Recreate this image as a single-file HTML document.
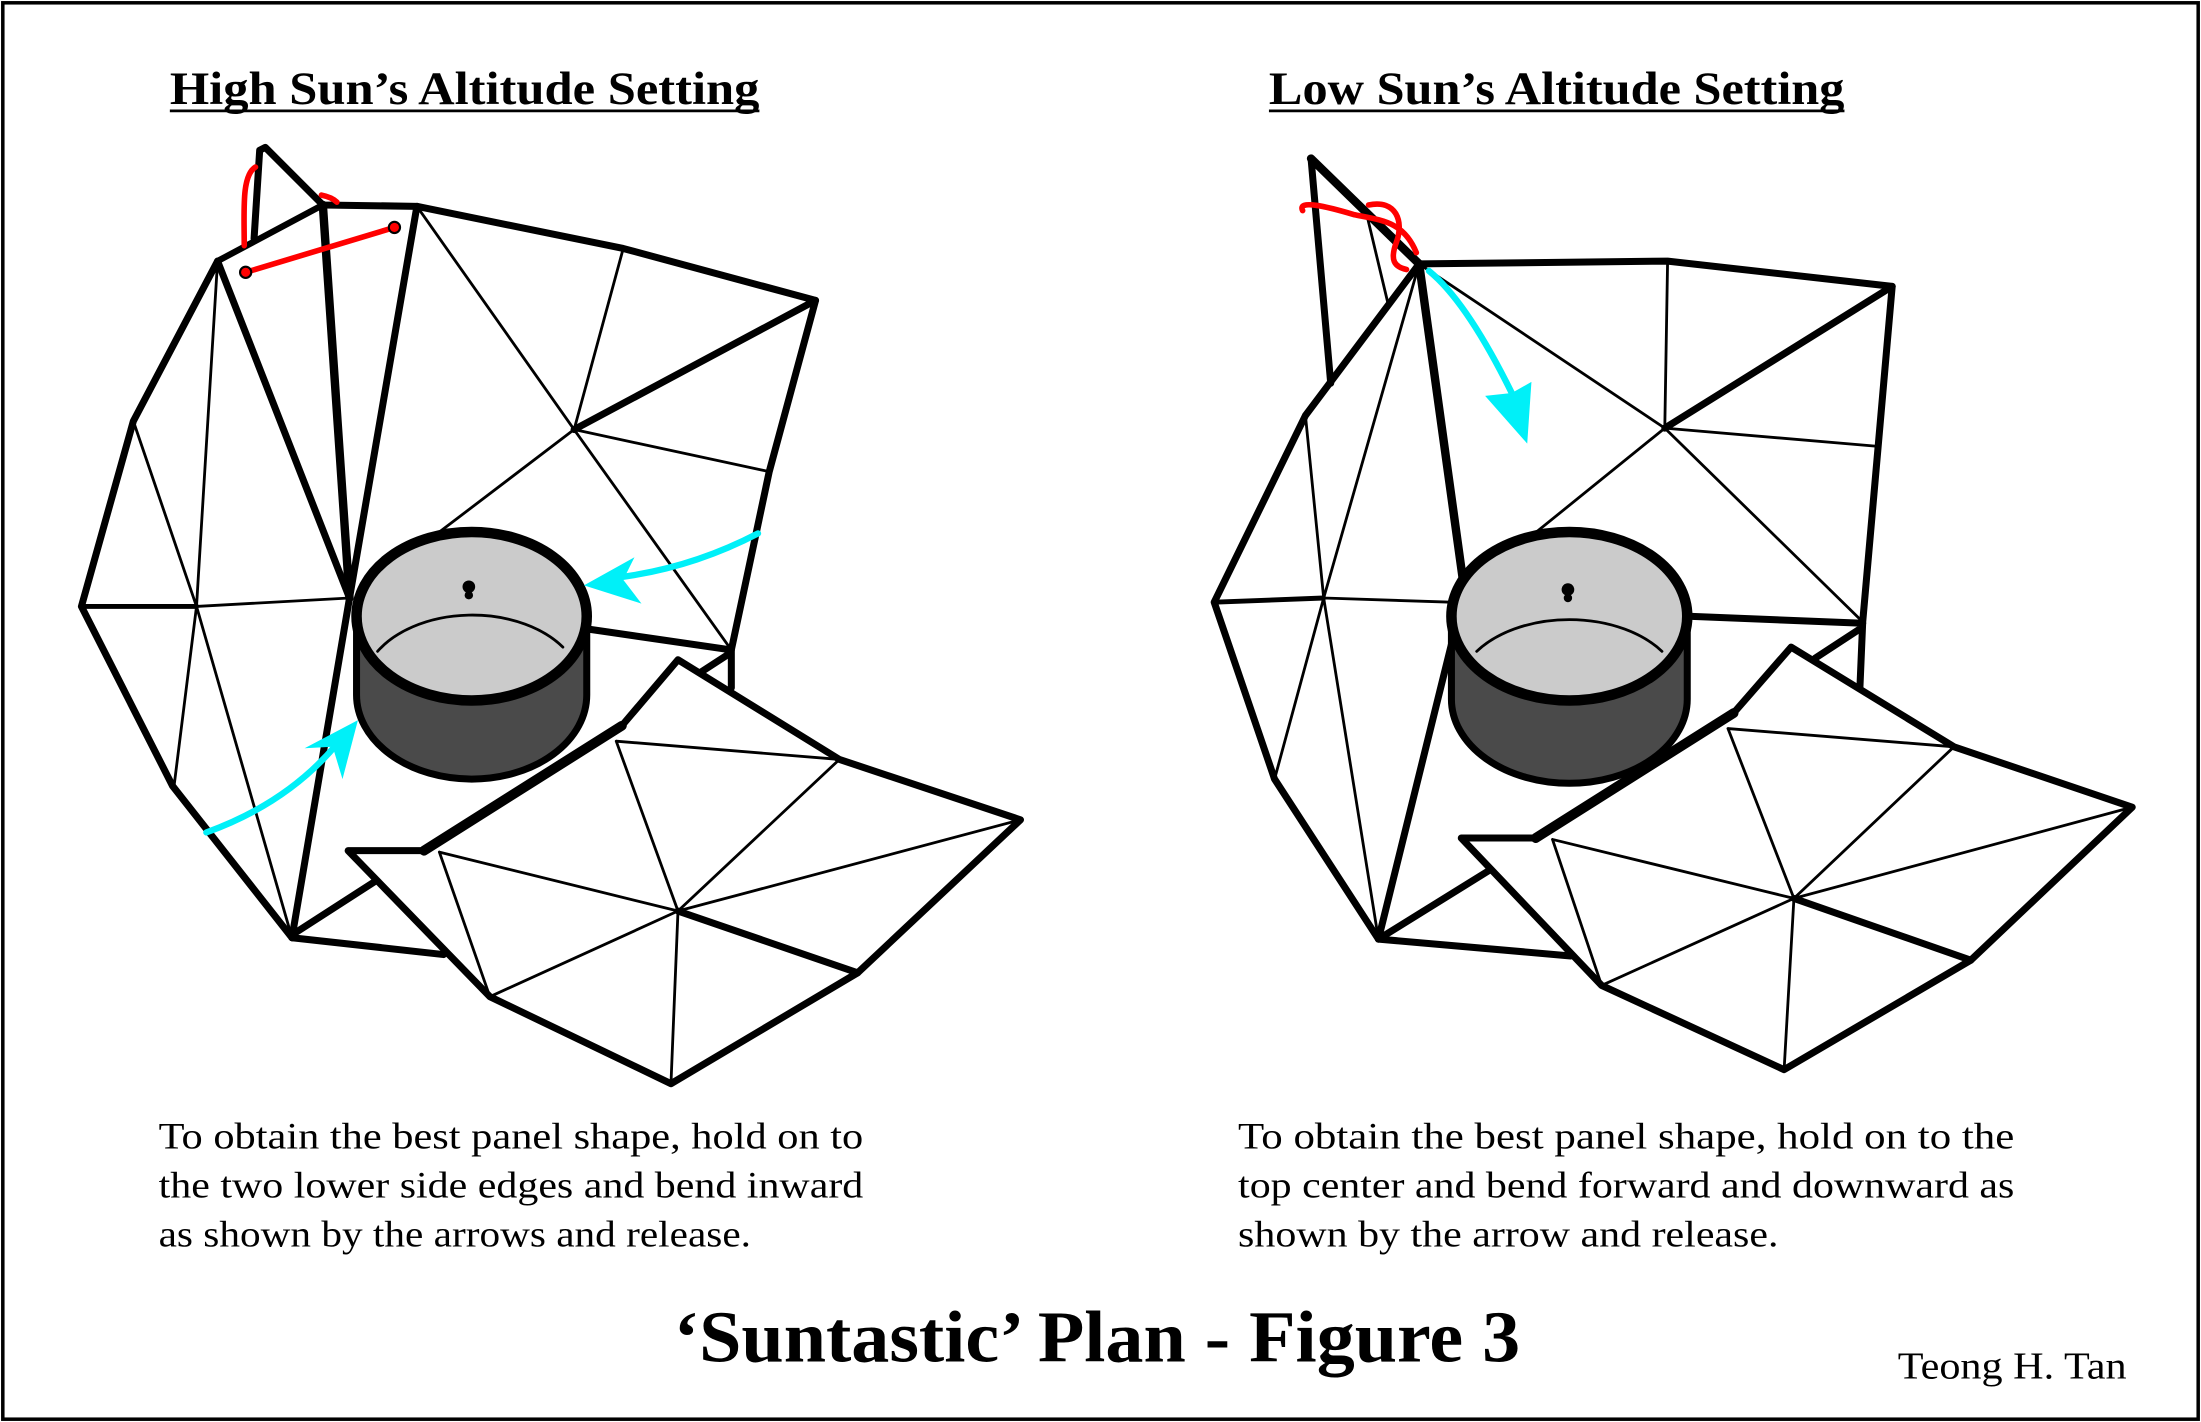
<!DOCTYPE html>
<html><head><meta charset="utf-8"><style>
html,body{margin:0;padding:0;background:#fff;}
svg{display:block;}
text{font-family:"Liberation Serif",serif;fill:#000;}
</style></head><body>
<svg width="2201" height="1422" viewBox="0 0 1568 1013" preserveAspectRatio="none" xmlns="http://www.w3.org/2000/svg">
<rect x="2" y="2" width="1564" height="1009" fill="#fff" stroke="#000" stroke-width="2.5"/>

<text x="121" y="74" font-size="33" font-weight="bold" textLength="420" lengthAdjust="spacingAndGlyphs">High Sun’s Altitude Setting</text>
<line x1="121" y1="79" x2="541" y2="79" stroke="#000" stroke-width="2"/>
<text x="904" y="74" font-size="33" font-weight="bold" textLength="410" lengthAdjust="spacingAndGlyphs">Low Sun’s Altitude Setting</text>
<line x1="904" y1="79" x2="1314" y2="79" stroke="#000" stroke-width="2"/>

<!-- LEFT DIAGRAM -->
<g stroke="#000" stroke-linecap="round" stroke-linejoin="round" fill="none">
  <path d="M181,170 L185,107 L189,105 L230,146 L297,147 L444,177 L581,214 L548,336 L521,463 L521,490" stroke-width="5" fill="#fff"/>
  <path d="M155,186 L230,146" stroke-width="4.5"/>
  <path d="M230,146 L249,426" stroke-width="6"/>
  <path d="M297,147 L249,426 M155,186 L249,426" stroke-width="5"/>
  <path d="M155,186 L95,300 L58,432 L123,560 L208,668" stroke-width="5"/>
  <path d="M249,426 L208,668" stroke-width="5"/>
  <path d="M208,668 L316,680 M208,666 L267,628" stroke-width="5"/>
  <path d="M297,147 L409,306 L444,177 M409,306 L548,336 M409,306 L521,463 M409,306 L313,379" stroke-width="2"/>
  <path d="M581,214 L409,306" stroke-width="5"/>
  <path d="M155,186 L140,432 L95,300 M140,432 L249,426 M140,432 L124,560 M140,432 L208,668" stroke-width="2"/>
  <path d="M58,432 L140,432" stroke-width="3.5"/>
  <path d="M418,448 L521,463 M499,479 L519,466" stroke-width="5"/>
  <path d="M248,606 L302,606 L443,517 L483,470 L598,541 L727,584 L611,693 L478,772 L349,710 Z" fill="#fff" stroke-width="5"/>
  <path d="M302,606 L443,517" stroke-width="7"/>
  <path d="M313,607 L483,649 M313,607 L349,710 M439,528 L598,541 M439,528 L483,649 M598,541 L483,649 M727,584 L483,649 M483,649 L349,710 M483,649 L478,772" stroke-width="2"/>
  <path d="M483,649 L611,693" stroke-width="5"/>
  <path d="M254,439 L254,495 A82,60 0 0 0 418,495 L418,439 Z" fill="#4a4a4a" stroke-width="5"/>
  <ellipse cx="336" cy="439" rx="82" ry="60" fill="#cbcbcb" stroke-width="7.5"/>
  <path d="M269,464 A78,52 0 0 1 401,461" stroke-width="2"/>
  <circle cx="334" cy="418" r="4.5" fill="#000" stroke="none"/>
  <circle cx="334" cy="424" r="3" fill="#000" stroke="none"/>
</g>
<g stroke="#f00" stroke-width="4" fill="none" stroke-linecap="round">
  <path d="M174,175 C174,150 172,125 182,119"/>
  <path d="M229,139 C234,140 238,142 240,144"/>
  <path d="M175,194 L281,162"/>
</g>
<circle cx="175" cy="194" r="4" fill="#f00" stroke="#000" stroke-width="1.5"/>
<circle cx="281" cy="162" r="4" fill="#f00" stroke="#000" stroke-width="1.5"/>
<g stroke="#00f0f8" stroke-width="4.5" fill="none" stroke-linecap="round">
  <path d="M540,380 Q490,406 435,412"/>
  <path d="M147,593 Q205,572 240,530"/>
</g>
<polygon points="416,417 452,397 444,413 457,430" fill="#00f0f8"/>
<polygon points="255,513 217,533 237,532 244,555" fill="#00f0f8"/>

<!-- RIGHT DIAGRAM -->
<g stroke="#000" stroke-linecap="round" stroke-linejoin="round" fill="none">
  <path d="M1011,188 L1188,186 L1348,204 L1338,318 L1327,443 L1325,490" stroke-width="5" fill="#fff"/>
  <path d="M948,273 L934,113 L1011,188" stroke-width="5"/>
  <path d="M934,113 L1011,188" stroke-width="6"/>
  <path d="M973,150 L989,217" stroke-width="2"/>
  <path d="M1011,188 L1043,419" stroke-width="6"/>
  <path d="M1011,188 L930,296 L865,429 L908,555 L982,669" stroke-width="5"/>
  <path d="M982,669 L1034,459" stroke-width="5"/>
  <path d="M982,669 L1119,681 M982,669 L1061,620" stroke-width="5"/>
  <path d="M1188,186 L1186,305 M1186,305 L1338,318 M1186,305 L1327,443 M1011,188 L1186,305 M1186,305 L1092,381" stroke-width="2"/>
  <path d="M1348,204 L1186,305" stroke-width="5"/>
  <path d="M1011,188 L943,426 L930,296 M943,426 L1034,429 M943,426 L908,555 M943,426 L982,669" stroke-width="2"/>
  <path d="M865,429 L943,426" stroke-width="3.5"/>
  <path d="M1203,439 L1327,444 M1293,469 L1325,448" stroke-width="5"/>
  <path d="M1041,597 L1094,597 L1235,508 L1276,461 L1392,532 L1519,575 L1404,684 L1271,762 L1141,702 Z" fill="#fff" stroke-width="5"/>
  <path d="M1094,597 L1235,508" stroke-width="7"/>
  <path d="M1106,598 L1278,640 M1106,598 L1141,702 M1231,519 L1392,532 M1231,519 L1278,640 M1392,532 L1278,640 M1519,575 L1278,640 M1278,640 L1141,702 M1278,640 L1271,762" stroke-width="2"/>
  <path d="M1278,640 L1404,684" stroke-width="5"/>
  <path d="M1034,439 L1034,498 A84,60 0 0 0 1202,498 L1202,439 Z" fill="#4a4a4a" stroke-width="5"/>
  <ellipse cx="1118" cy="439" rx="84" ry="60" fill="#cbcbcb" stroke-width="7.5"/>
  <path d="M1052,464 A80,52 0 0 1 1184,464" stroke-width="2"/>
  <circle cx="1117" cy="420" r="4.5" fill="#000" stroke="none"/>
  <circle cx="1117" cy="426" r="3" fill="#000" stroke="none"/>
</g>
<g stroke="#f00" stroke-width="4" fill="none" stroke-linecap="round">
  <path d="M928,150 C924,142 945,147 965,153 C985,157 1000,158 1009,180"/>
  <path d="M975,146 C995,142 1000,158 995,172 C990,185 993,190 1002,192"/>
</g>
<path d="M1018,193 Q1045,215 1077,280" stroke="#00f0f8" stroke-width="4.5" fill="none" stroke-linecap="round"/>
<polygon points="1088,316 1058,282 1077,280 1091,272" fill="#00f0f8"/>

<g font-size="26">
<text x="113" y="818" textLength="502" lengthAdjust="spacingAndGlyphs">To obtain the best panel shape, hold on to</text>
<text x="113" y="853" textLength="502" lengthAdjust="spacingAndGlyphs">the two lower side edges and bend inward</text>
<text x="113" y="888" textLength="422" lengthAdjust="spacingAndGlyphs">as shown by the arrows and release.</text>
<text x="882" y="818" textLength="553" lengthAdjust="spacingAndGlyphs">To obtain the best panel shape, hold on to the</text>
<text x="882" y="853" textLength="553" lengthAdjust="spacingAndGlyphs">top center and bend forward and downward as</text>
<text x="882" y="888" textLength="385" lengthAdjust="spacingAndGlyphs">shown by the arrow and release.</text>
</g>
<text x="480" y="970" font-size="52" font-weight="bold" textLength="603" lengthAdjust="spacingAndGlyphs">‘Suntastic’ Plan - Figure 3</text>
<text x="1352" y="982" font-size="27" textLength="163" lengthAdjust="spacingAndGlyphs">Teong H. Tan</text>
</svg>
</body></html>
